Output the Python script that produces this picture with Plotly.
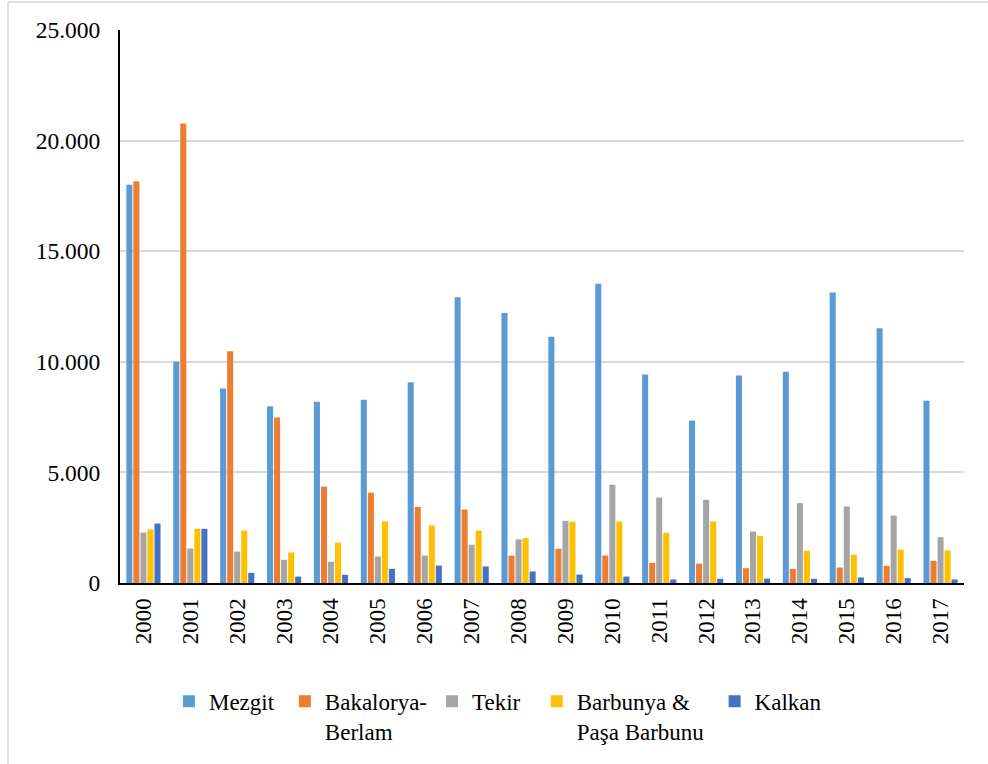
import plotly.graph_objects as go

NB = "\u00a0"
years = [str(y) for y in range(2000, 2018)]
series_names = ["Mezgit" + NB, "Bakalorya-<br>Berlam", "Tekir" + NB * 2,
                "Barbunya &<br>Paşa Barbunu" + NB, "Kalkan"]
colors = ["#5B9BD5", "#ED7D31", "#A5A5A5", "#FFC000", "#4472C4"]

mezgit = [18000, 10000, 8790, 7990, 8190, 8280, 9080, 12920, 12210, 11130,
          13530, 9430, 7350, 9380, 9550, 13130, 11520, 8240]
bakalorya = [18160, 20770, 10480, 7480, 4360, 4080, 3440, 3320, 1240, 1550,
             1240, 910, 880, 670, 640, 700, 780, 1000]
tekir = [2280, 1560, 1420, 1050, 960, 1200, 1240, 1730, 1970, 2810,
         4440, 3860, 3760, 2330, 3610, 3460, 3050, 2070]
barbunya = [2420, 2450, 2370, 1380, 1830, 2790, 2600, 2370, 2030, 2770,
            2780, 2270, 2780, 2130, 1460, 1270, 1510, 1470]
kalkan = [2690, 2450, 460, 290, 370, 640, 790, 750, 520, 380,
          290, 160, 190, 200, 190, 250, 220, 160]

values = [mezgit, bakalorya, tekir, barbunya, kalkan]
y_ticks = [0, 5000, 10000, 15000, 20000, 25000]
y_tick_text = ["0", "5.000", "10.000", "15.000", "20.000", "25.000"]

FONT = "'Times New Roman', 'Liberation Serif', 'DejaVu Serif', serif"

fig = go.Figure()
for name, vals, col in zip(series_names, values, colors):
    fig.add_trace(go.Bar(x=years, y=vals, name=name, marker=dict(color=col, line=dict(width=0))))

fig.update_layout(
    width=988, height=764,
    margin=dict(l=120, r=24, t=30, b=181, autoexpand=False),
    paper_bgcolor="white", plot_bgcolor="white",
    barmode="group", bargap=0.25, bargroupgap=0.14,
    font=dict(family=FONT, size=23, color="black"),
    legend=dict(orientation="h", x=0.058, xanchor="left", y=-0.175, yanchor="top",
                valign="top", font=dict(family=FONT, size=23, color="black"),
                itemwidth=30, traceorder="normal", tracegroupgap=0),
    showlegend=True,
)
fig.update_yaxes(range=[0, 25000], tickvals=y_ticks, ticktext=y_tick_text,
                 showgrid=True, gridcolor="#D9D9D9", gridwidth=1.5,
                 showline=True, linecolor="black", linewidth=2,
                 ticks="", ticklabelstandoff=13, zeroline=False,
                 tickfont=dict(family=FONT, size=23.5, color="black"))
fig.update_xaxes(showline=True, linecolor="black", linewidth=2, ticks="",
                 tickangle=-90, ticklabelstandoff=4,
                 tickfont=dict(family=FONT, size=23, color="black"))

# outer chart border (visible left and top edges)
fig.add_shape(type="line", xref="paper", yref="paper", x0=-0.1327, x1=-0.1327, y0=-0.33, y1=1.0506,
              line=dict(color="#D9D9D9", width=1.5))
fig.add_shape(type="line", xref="paper", yref="paper", x0=-0.1327, x1=1.03, y0=1.0506, y1=1.0506,
              line=dict(color="#D9D9D9", width=1.5))

fig.write_html("out.html", config={"displayModeBar": False},
               post_script="document.body.style.margin='0px';")
